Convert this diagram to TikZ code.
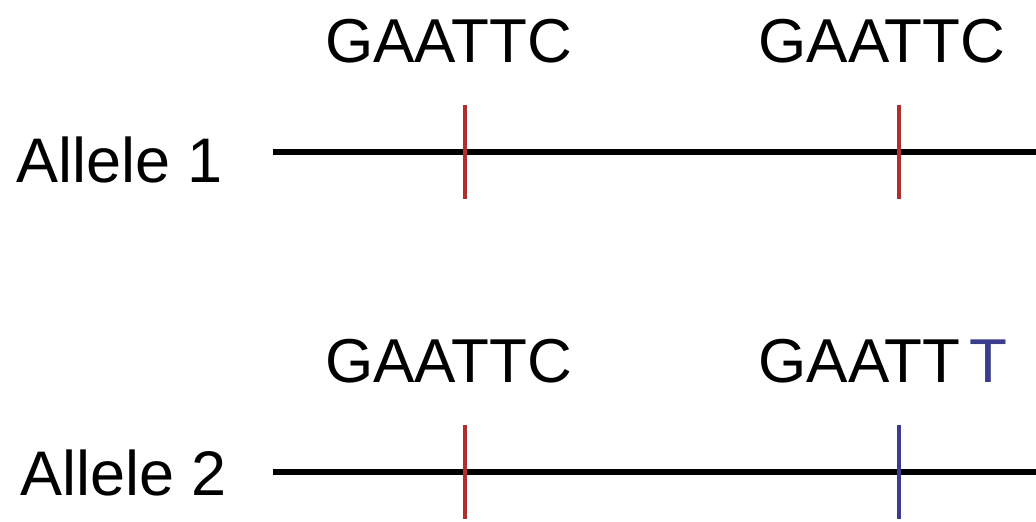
\documentclass[tikz,border=0pt]{standalone}
\usepackage{fontspec}
\setmainfont{Liberation Sans}
\definecolor{sitered}{RGB}{176,46,46}
\definecolor{siteblue}{RGB}{60,60,140}
\begin{document}
\begin{tikzpicture}[x=0.5pt,y=-0.5pt,
        strand/.style={line width=3.4pt,black},
        cut/.style={line width=1.7pt},
        seq/.style={font=\fontsize{31}{36}\selectfont,inner sep=0pt,anchor=base west},
        lbl/.style={font=\fontsize{31.5}{36}\selectfont,inner sep=0pt,anchor=base west}]
            \useasboundingbox (0,0) rectangle (1036,522);
            \def\xs{273}
            \def\xe{1036}
            \def\tl{47}

            % allele 1
            \node[lbl] (lab1) at (16,183) {Allele 1};
            \coordinate (s1) at (\xs,152);
            \coordinate (e1) at (\xe,152);
            \draw[strand] (s1) -- (e1);
            \node[seq] (site11) at (325,63) {GAATTC};
            \node[seq] (site12) at (758,63) {GAATTC};

            % allele 2
            \node[lbl] (lab2) at (20,495) {Allele 2};
            \coordinate (s2) at (\xs,472);
            \coordinate (e2) at (\xe,472);
            \draw[strand] (s2) -- (e2);
            \node[seq] (site21) at (325,383) {GAATTC};
            \node[seq] (site22) at (758,383) {GAATT};
            \node[seq,text=siteblue] (snp) at (969,383) {T};

            \foreach \y/\ca/\cb in {152/sitered/sitered,472/sitered/siteblue}{
                    \draw[cut,\ca] (465,{\y-\tl}) -- (465,{\y+\tl});
                    \draw[cut,\cb] (899,{\y-\tl}) -- (899,{\y+\tl});
                }
        \end{tikzpicture}
\end{document}
